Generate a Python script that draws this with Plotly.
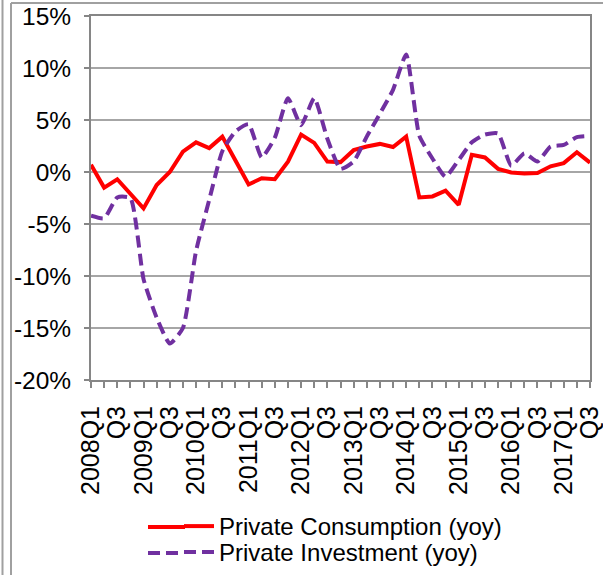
import plotly.graph_objects as go

quarters = [f"{y}Q{q}" for y in range(2008, 2018) for q in range(1, 5)][:39]
tick_text = [(q if q.endswith("Q1") else "Q3") if i % 2 == 0 else "" for i, q in enumerate(quarters)]

consumption = [0.7, -1.5, -0.7, -2.1, -3.5, -1.25, 0.0, 1.95, 2.85, 2.3, 3.4,
               1.1, -1.2, -0.6, -0.7, 1.0, 3.6, 2.8, 1.0, 0.95, 2.1,
               2.45, 2.7, 2.4, 3.4, -2.45, -2.35, -1.8, -3.15, 1.65, 1.4,
               0.3, -0.05, -0.15, -0.1, 0.55, 0.85, 1.9, 0.9]
investment = [-4.2, -4.45, -2.45, -2.5, -10.3, -14.0, -16.5, -15.0, -7.6, -2.7, 2.0,
              3.9, 4.6, 1.4, 3.3, 7.1, 4.5, 7.1, 3.2, 0.3, 1.0,
              3.4, 5.6, 7.9, 11.3, 3.5, 1.3, -0.45, 1.15, 2.85, 3.6,
              3.7, 0.6, 1.8, 1.0, 2.45, 2.6, 3.35, 3.45]

RED, PURPLE = "#FF0000", "#7030A0"
DASH = "12px,6px"

x_idx = list(range(len(quarters)))

fig = go.Figure()
fig.add_trace(go.Scatter(x=x_idx, y=consumption, mode="lines",
                         name="Private Consumption (yoy)", legend="legend",
                         line=dict(color=RED, width=4)))
fig.add_trace(go.Scatter(x=x_idx, y=investment, mode="lines",
                         name="Private Investment (yoy)", legend="legend2",
                         line=dict(color=PURPLE, width=4, dash=DASH,
                                   shape="spline", smoothing=0.5)))

W, H = 603, 575
L, R, T, B = 91, 13, 16, 195
pw, ph = W - L - R, H - T - B

def px(x):
    return (x - L) / pw

def py(y):
    return (H - B - y) / ph

frame = dict(color="#A0A0A0", width=2)
fig.add_shape(type="line", xref="paper", yref="paper", x0=px(2.5), x1=px(2.5), y0=py(0), y1=py(H), line=frame)
fig.add_shape(type="line", xref="paper", yref="paper", x0=px(11), x1=px(11), y0=py(3), y1=py(H), line=frame)
fig.add_shape(type="line", xref="paper", yref="paper", x0=px(11), x1=px(W), y0=py(3), y1=py(3), line=frame)

# longer legend keys (extend the legend line samples to the left)
LEG_X = 179
fig.add_shape(type="line", xref="paper", yref="paper", x0=px(148), x1=px(LEG_X + 6),
              y0=py(527), y1=py(527), line=dict(color=RED, width=4))
fig.add_shape(type="line", xref="paper", yref="paper", x0=px(LEG_X + 5 - 36), x1=px(LEG_X + 5),
              y0=py(553), y1=py(553), line=dict(color=PURPLE, width=4, dash=DASH))

leg_common = dict(xanchor="left", yanchor="top", font=dict(size=24),
                  bgcolor="rgba(0,0,0,0)")
fig.update_layout(
    width=W, height=H,
    margin=dict(l=L, r=R, t=T, b=B, autoexpand=False),
    paper_bgcolor="white", plot_bgcolor="white",
    font=dict(family="Liberation Sans, Arial, sans-serif", color="#000000", size=24.5),
    showlegend=True,
    legend=dict(x=px(LEG_X), y=py(504), **leg_common),
    legend2=dict(x=px(LEG_X), y=py(530), **leg_common),
)
fig.update_xaxes(range=[0, len(quarters) - 1], tickmode="array", tickvals=x_idx,
                 ticktext=tick_text, tickangle=-90, ticks="outside", ticklen=6,
                 tickcolor="#868686", tickwidth=1.5, showgrid=False, zeroline=False,
                 showline=True, linecolor="#868686", linewidth=2, mirror=True,
                 ticklabelstandoff=8, ticklabeloverflow="allow", tickfont=dict(size=25))
fig.update_yaxes(range=[-20, 15], tickvals=list(range(-20, 16, 5)),
                 ticktext=[f"{v}%" for v in range(-20, 16, 5)],
                 ticks="outside", ticklen=5, tickcolor="#868686", tickwidth=1.5,
                 showgrid=True, gridcolor="#A6A6A6", gridwidth=1.5, zeroline=False,
                 showline=True, linecolor="#868686", linewidth=2, mirror=True,
                 ticklabelstandoff=8, ticklabeloverflow="allow")

fig.write_html("out.html", config={"displayModeBar": False},
               post_script="document.body.style.margin='0';")
